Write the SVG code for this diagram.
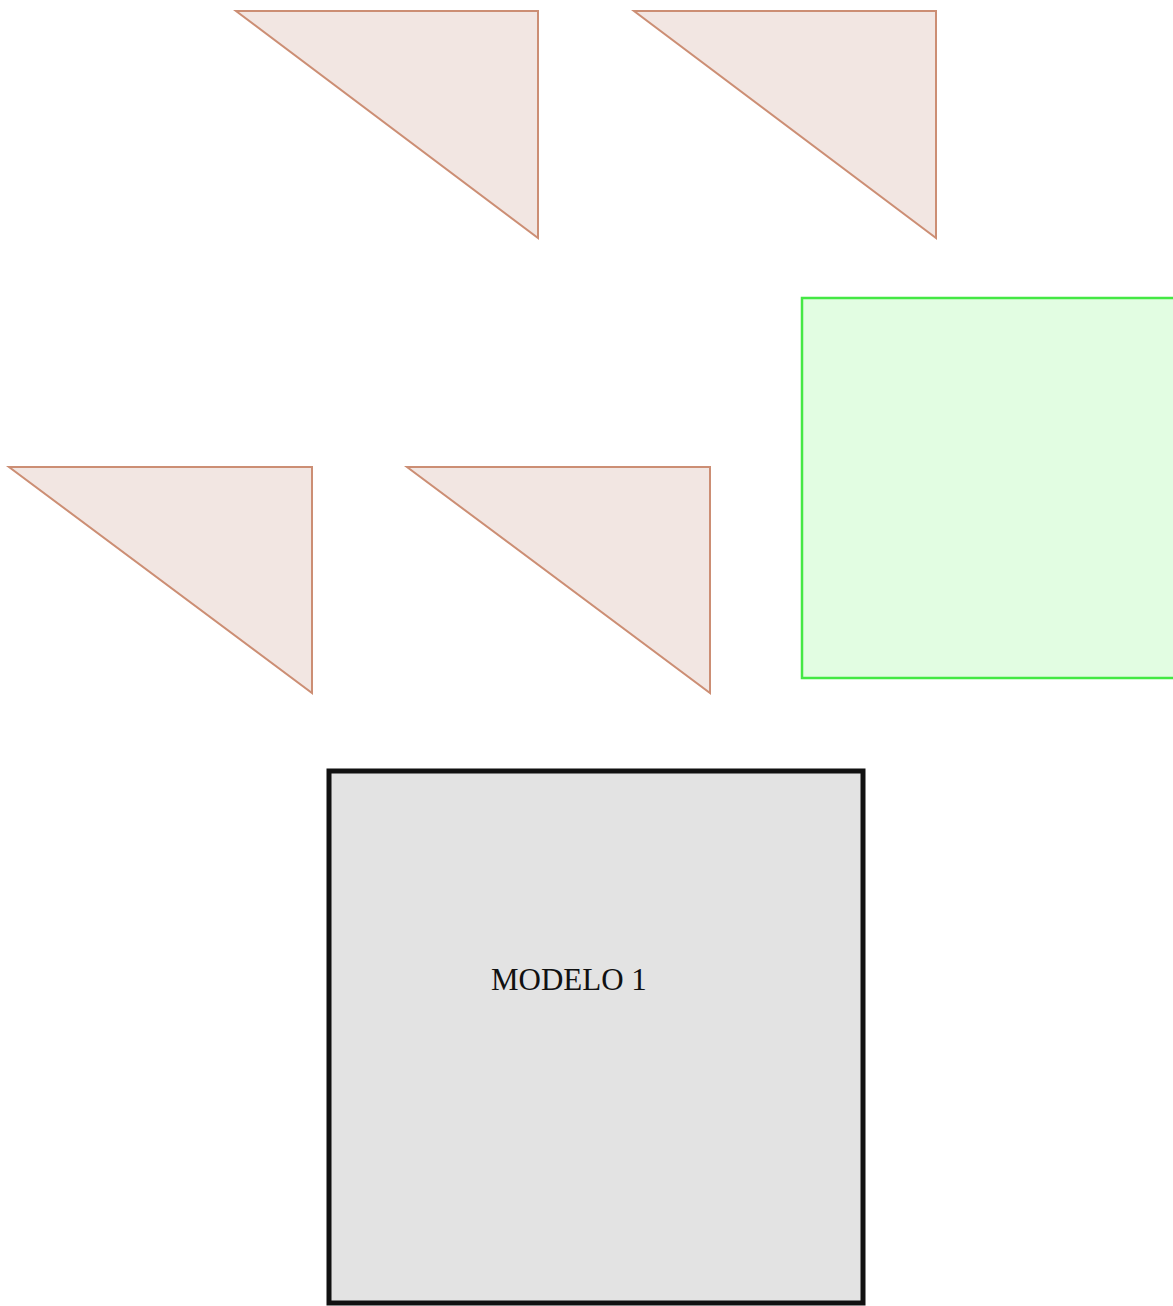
<svg xmlns="http://www.w3.org/2000/svg" width="1173" height="1306" viewBox="0 0 1173 1306">
<style>
.tri{fill:#f2e6e2;stroke:#cc8e74;stroke-width:2;stroke-linejoin:miter}
.green{fill:#e2fde2;stroke:#44e844;stroke-width:2.5}
.model{fill:#e3e3e3;stroke:#111;stroke-width:5}
.lbl{font-family:"Liberation Serif","Times New Roman",serif;font-size:31px;fill:#111}
</style>
<rect width="1173" height="1306" fill="#fff"/>
<g id="tri1"><polygon class="tri" points="236,11 538,11 538,238"/></g>
<g id="tri2"><polygon class="tri" points="634,11 936,11 936,238"/></g>
<g id="tri3"><polygon class="tri" points="9,467 312,467 312,693"/></g>
<g id="tri4"><polygon class="tri" points="407,467 710,467 710,693"/></g>
<g id="green"><rect class="green" x="802" y="298" width="380" height="380"/></g>
<g id="modelo1"><rect class="model" x="329" y="771" width="534" height="532"/><text class="lbl" x="491" y="990">MODELO 1</text></g>
<g id="connectors"></g>
</svg>
